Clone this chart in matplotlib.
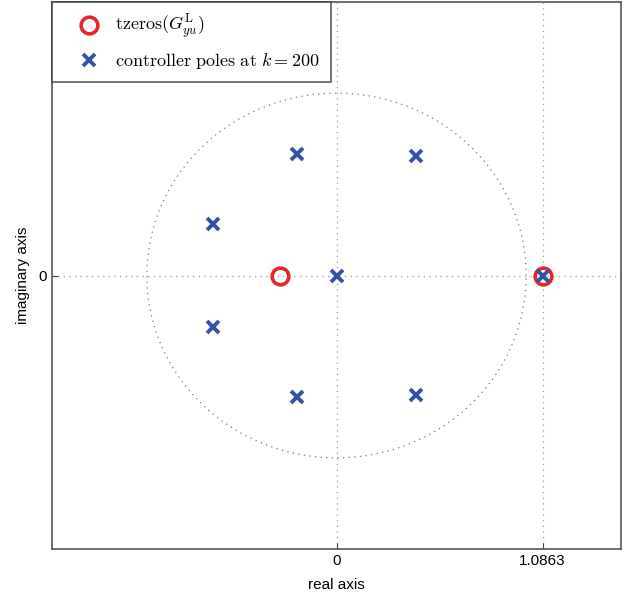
import matplotlib
matplotlib.use("Agg")
import matplotlib.pyplot as plt
import numpy as np

plt.rcParams["font.family"] = ["Liberation Sans", "DejaVu Sans"]
plt.rcParams["mathtext.fontset"] = "cm"

# transmission zeros of G_yu^L
zero_re = [-0.30, 1.0863]
zero_im = [0.0, 0.0]

# controller poles at k = 200
pole_re = [-0.21, 0.42, -0.653, -0.653, -0.21, 0.42, 0.0, 1.0863]
pole_im = [0.664, 0.655, 0.284, -0.284, -0.664, -0.655, 0.0, 0.0]

xticks = [0, 1.0863]
xticklabels = ["0", "1.0863"]
yticks = [0]
yticklabels = ["0"]

RED = "#e8262a"
BLUE = "#3552a8"

fig = plt.figure(figsize=(6.26, 5.97), dpi=100)
ax = fig.add_axes([52 / 626, 1 - 549 / 597, (621 - 52) / 626, (549 - 2) / 597])

# unit circle
t = np.linspace(0, 2 * np.pi, 400)
ax.plot(np.cos(t), np.sin(t), ls=(0, (1, 3.5)), c="#777777", lw=0.9, zorder=1)

hz, = ax.plot(zero_re, zero_im, "o", ms=12, mfc="none", mec=RED, mew=2.6, zorder=3,
              label=r"$\mathrm{tzeros}(G_{yu}^{\mathrm{L}})$")
hp, = ax.plot(pole_re, pole_im, "x", ms=8.5, mec=BLUE, mew=2.8, zorder=4,
              label=r"$\mathrm{controller\ poles\ at\ }k = 200$")

ax.set_xlim(-1.5, 1.5)
ax.set_ylim(-1.5, 1.5)
ax.set_xticks(xticks)
ax.set_xticklabels(xticklabels)
ax.set_yticks(yticks)
ax.set_yticklabels(yticklabels)
ax.grid(True, ls=(0, (1, 3.5)), c="#999999", lw=0.9)
ax.tick_params(direction="in", length=4, labelsize=11, colors="#444444", labelcolor="black")
for s in ax.spines.values():
    s.set_color("#555555")
    s.set_linewidth(1.2)
ax.set_xlabel("real axis", fontsize=11, labelpad=7)
ax.set_ylabel("imaginary axis", fontsize=11, labelpad=6)

leg = ax.legend(handles=[hz, hp], loc="upper left", borderaxespad=0, fontsize=13,
                frameon=True, fancybox=False, handletextpad=0.0, borderpad=0.6,
                labelspacing=0.55, handlelength=2.9)
leg.get_frame().set_edgecolor("#333333")
leg.get_frame().set_linewidth(1.2)

fig.savefig("out.png", dpi=100)
